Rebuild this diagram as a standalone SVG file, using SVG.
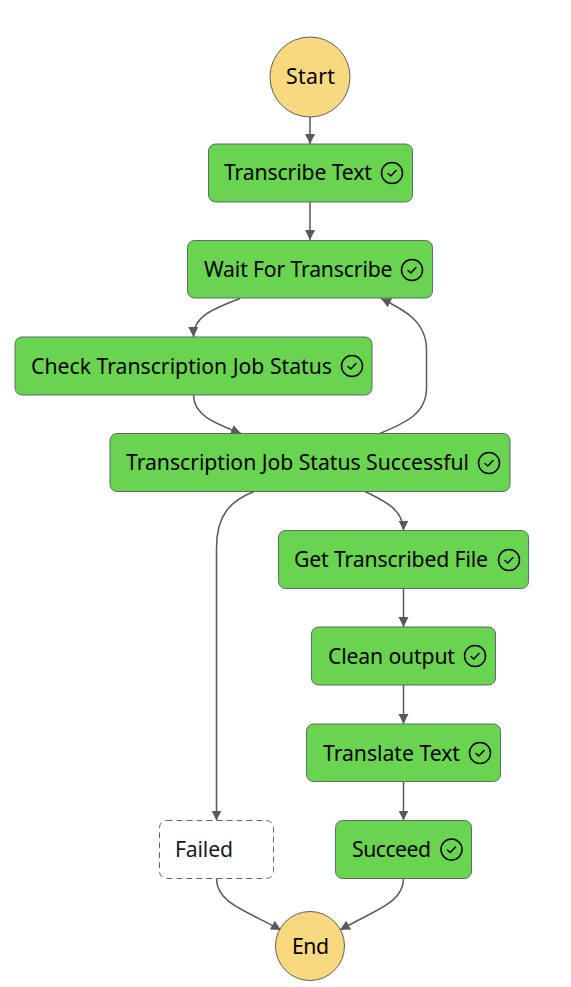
<svg xmlns="http://www.w3.org/2000/svg" width="571" height="987" viewBox="0 0 571 987">
<style>
.n{fill:#69d44f;stroke:#5f6b66;stroke-width:1}
.t{font-family:"Noto Sans","Open Sans",sans-serif;font-size:21.2px;fill:#000}
.c{fill:none;stroke:#000;stroke-width:1.5}
.k{fill:none;stroke:#000;stroke-width:1.5;stroke-linecap:round;stroke-linejoin:round}
.e{fill:none;stroke:#595959;stroke-width:1.5}
.o{fill:#f9d97f;stroke:#5f5f5f;stroke-width:1}
</style>
<defs>
<marker id="a" markerUnits="userSpaceOnUse" markerWidth="12" markerHeight="12" refX="10" refY="5" orient="auto"><path d="M0 0L10 5L0 10Z" fill="#595959"/></marker>
<g id="ok"><circle class="c" r="10.500"/><path class="k" d="M-4 0.500L-1.200 3L4 -2.500"/></g>
</defs>
<g id="connectors">
<path class="e" marker-end="url(#a)" d="M310 117V144"/>
<path class="e" marker-end="url(#a)" d="M310 202V240"/>
<path class="e" marker-end="url(#a)" d="M240 298.500C215 308 193 316 193.500 337"/>
<path class="e" marker-end="url(#a)" d="M193.500 395C193.500 416 217 424 241 433.500"/>
<path class="e" marker-end="url(#a)" d="M380 433.500C405 423 426.500 414 426.500 388V350C426.500 322 405 310 381 298.500"/>
<path class="e" marker-end="url(#a)" d="M365 491.500C385 501 403.500 510 403.500 530.500"/>
<path class="e" marker-end="url(#a)" d="M254 491.500C230 501 216.500 515 216.500 548V820.500"/>
<path class="e" marker-end="url(#a)" d="M403.500 588.500V627"/>
<path class="e" marker-end="url(#a)" d="M403.500 685V724"/>
<path class="e" marker-end="url(#a)" d="M403.500 781.500V820.500"/>
<path class="e" marker-end="url(#a)" d="M216.500 878.500C216.500 903 245 910 281 930"/>
<path class="e" marker-end="url(#a)" d="M403.500 878.500C403.500 903 375 910 340 930"/>
</g>
<g id="start"><circle class="o" cx="310" cy="77" r="40"/><text class="t" x="286" y="84" textLength="49">Start</text></g>
<g id="transcribe-text"><rect class="n" x="208.500" y="144" width="204" height="58" rx="7"/><text class="t" x="224" y="180" textLength="148">Transcribe Text</text><use href="#ok" x="392" y="173"/></g>
<g id="wait"><rect class="n" x="187.500" y="240.500" width="245" height="57.500" rx="7"/><text class="t" x="204" y="277" textLength="188.500">Wait For Transcribe</text><use href="#ok" x="412" y="270"/></g>
<g id="check"><rect class="n" x="15" y="337" width="357" height="58" rx="7"/><text class="t" x="31" y="374" textLength="301">Check Transcription Job Status</text><use href="#ok" x="352" y="366"/></g>
<g id="status"><rect class="n" x="110" y="433.500" width="400" height="58" rx="7"/><text class="t" x="126" y="470" textLength="343">Transcription Job Status Successful</text><use href="#ok" x="489" y="463"/></g>
<g id="get"><rect class="n" x="278.500" y="530.500" width="250" height="58" rx="7"/><text class="t" x="294" y="567" textLength="194">Get Transcribed File</text><use href="#ok" x="509" y="560"/></g>
<g id="clean"><rect class="n" x="311.500" y="627" width="184" height="58" rx="7"/><text class="t" x="328" y="664" textLength="127">Clean output</text><use href="#ok" x="475" y="656"/></g>
<g id="translate"><rect class="n" x="306.500" y="724" width="194" height="57.500" rx="7"/><text class="t" x="323" y="761" textLength="137">Translate Text</text><use href="#ok" x="480" y="753"/></g>
<g id="failed"><rect x="159.500" y="820.500" width="114" height="58" rx="7" fill="#fff" stroke="#666" stroke-width="1" stroke-dasharray="6 4"/><text class="t" x="175" y="857" textLength="58" style="fill:#16191f">Failed</text></g>
<g id="succeed"><rect class="n" x="335.500" y="820.500" width="136" height="58" rx="7"/><text class="t" x="352" y="857" textLength="79">Succeed</text><use href="#ok" x="451.500" y="849.500"/></g>
<g id="end"><circle class="o" cx="310" cy="946" r="34.500"/><text class="t" x="292" y="953.500" textLength="37">End</text></g>
</svg>
